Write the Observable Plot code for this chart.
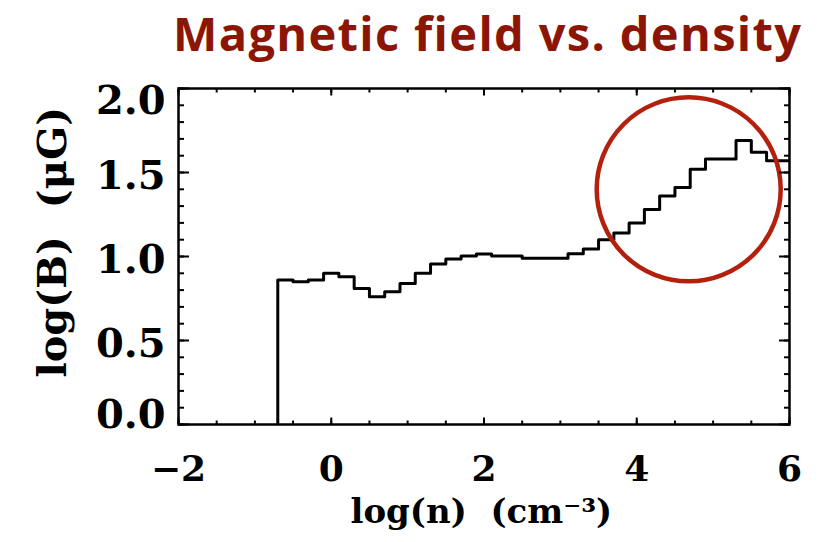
<!DOCTYPE html>
<html>
<head>
<meta charset="utf-8">
<script src="https://cdn.jsdelivr.net/npm/d3@7"></script>
<script src="https://cdn.jsdelivr.net/npm/@observablehq/plot@0.6"></script>
<style>
  html, body { margin: 0; padding: 0; background: #fff; }
  #chart { position: relative; width: 826px; height: 542px; overflow: hidden; background: #fff; }
  #title { position: relative; height: 70px; }
  #title span {
    position: absolute; left: 173px; top: 1px;
    font-family: "Open Sans", sans-serif; font-weight: 700; font-size: 47px;
    line-height: normal; color: #8c1605; white-space: nowrap;
  }
  #chart svg { display: block; }
</style>
</head>
<body>
<div id="chart">
  <div id="title"><span>Magnetic field vs. density</span></div>
</div>
<script>
// Histogram bins of log(n): left edge of each 0.2-dex bin and the mean log(B) in it
const binLeft = [-0.7, -0.5, -0.3, -0.1, 0.1, 0.3, 0.5, 0.7, 0.9, 1.1, 1.3, 1.5, 1.7,
                 1.9, 2.1, 2.3, 2.5, 2.7, 2.9, 3.1, 3.3, 3.5, 3.7, 3.9, 4.1, 4.3, 4.5,
                 4.7, 4.9, 5.1, 5.3, 5.5, 5.7, 5.9];
const logB = [0.86, 0.85, 0.86, 0.90, 0.88, 0.81, 0.76, 0.79, 0.84, 0.90, 0.955, 0.985, 1.003,
              1.015, 1.003, 1.003, 0.99, 0.99, 0.99, 1.016, 1.045, 1.10, 1.14, 1.20, 1.28, 1.36, 1.41,
              1.52, 1.58, 1.58, 1.69, 1.62, 1.57, 1.57];
const lastEdge = 6.0;

// Highlight ring around the high-density rise
const ringX = [4.68];
const ringY = [1.40];

// Axis ticks
const xMajor = [-2, 0, 2, 4, 6];
const xMinor = d3.range(-2, 6.001, 0.5);
const yMajor = [0, 0.5, 1.0, 1.5, 2.0];
const yMinor = d3.range(0, 2.001, 0.1);

const xTitle = "log(n)  (cm\u207B\u00B3)";
const yTitle = "log(B)  (\u03BCG)";

// Step outline: rise from zero at the first edge, then one level per bin
const steps = [{n: binLeft[0], b: 0}]
  .concat(binLeft.map((n, i) => ({n, b: logB[i]})))
  .concat([{n: lastEdge, b: logB[logB.length - 1]}]);

const serif = "'DejaVu Serif', serif";
const fmtY = d3.format(".1f");
const fmtX = d => (d < 0 ? "\u2212" + Math.abs(d) : String(d));

const plot = Plot.plot({
  width: 826,
  height: 472,
  marginLeft: 178,
  marginRight: 37,
  marginTop: 18,
  marginBottom: 118,
  x: {domain: [-2, 6], label: null},
  y: {domain: [0, 2], label: null},
  style: {fontFamily: serif, background: "white", color: "black", overflow: "visible"},
  marks: [
    Plot.line(steps, {x: "n", y: "b", curve: "step-after", stroke: "black", strokeWidth: 3, clip: true}),
    Plot.dot(ringX.map((x, i) => ({x, y: ringY[i]})), {x: "x", y: "y", r: 92, fill: "none", stroke: "#b3200e", strokeWidth: 4.5}),
    Plot.frame({stroke: "black", strokeWidth: 2.5}),

    // inward ticks on all four sides
    Plot.axisX(xMinor, {anchor: "bottom", tickSize: -3.5, fill: "none", strokeWidth: 2, label: null}),
    Plot.axisX(xMajor, {anchor: "bottom", tickSize: -6.5, fill: "none", strokeWidth: 2, label: null}),
    Plot.axisX(xMinor, {anchor: "top", tickSize: -3.5, fill: "none", strokeWidth: 2, label: null}),
    Plot.axisX(xMajor, {anchor: "top", tickSize: -6.5, fill: "none", strokeWidth: 2, label: null}),
    Plot.axisY(yMinor, {anchor: "left", tickSize: -6, fill: "none", strokeWidth: 2, label: null}),
    Plot.axisY(yMajor, {anchor: "left", tickSize: -11, fill: "none", strokeWidth: 2, label: null}),
    Plot.axisY(yMinor, {anchor: "right", tickSize: -6, fill: "none", strokeWidth: 2, label: null}),
    Plot.axisY(yMajor, {anchor: "right", tickSize: -11, fill: "none", strokeWidth: 2, label: null}),

    // tick labels
    Plot.axisX(xMajor, {anchor: "bottom", tickSize: 0, tickPadding: 31, fontSize: 36, fontWeight: "bold", tickFormat: fmtX, label: null}),
    Plot.axisY(yMajor.filter(d => d === 2), {anchor: "left", tickSize: 0, tickPadding: 13, fontSize: 40, fontWeight: "bold", tickFormat: fmtY, dy: 13, label: null}),
    Plot.axisY(yMajor.filter(d => d > 0 && d < 2), {anchor: "left", tickSize: 0, tickPadding: 13, fontSize: 40, fontWeight: "bold", tickFormat: fmtY, dy: 4, label: null}),
    Plot.axisY(yMajor.filter(d => d === 0), {anchor: "left", tickSize: 0, tickPadding: 13, fontSize: 40, fontWeight: "bold", tickFormat: fmtY, dy: -9, label: null}),

    // axis titles, anchored at their start so they can be fitted to length
    Plot.text([xTitle], {frameAnchor: "bottom-left", textAnchor: "start", lineAnchor: "bottom", dx: 172, dy: 98, fontSize: 34, fontWeight: "bold", fill: "black", ariaLabel: "x-title"}),
    Plot.text([yTitle], {frameAnchor: "bottom-left", textAnchor: "start", lineAnchor: "bottom", rotate: -90, dx: -113, dy: -47, fontSize: 40, fontWeight: "bold", fill: "black", ariaLabel: "y-title"})
  ]
});

document.getElementById("chart").appendChild(plot);

// fit the axis titles to their drawn lengths
const fit = (name, len) => {
  plot.querySelectorAll(`g[aria-label="${name}"] text`).forEach(t => {
    t.setAttribute("textLength", len);
    t.setAttribute("lengthAdjust", "spacingAndGlyphs");
  });
};
fit("x-title", 273);
fit("y-title", 237);

// spread the heading across its line
const span = document.querySelector("#title span");
const w = span.getBoundingClientRect().width;
const n = span.textContent.length;
span.style.letterSpacing = ((628 - w) / (n - 1)) + "px";
</script>
</body>
</html>
